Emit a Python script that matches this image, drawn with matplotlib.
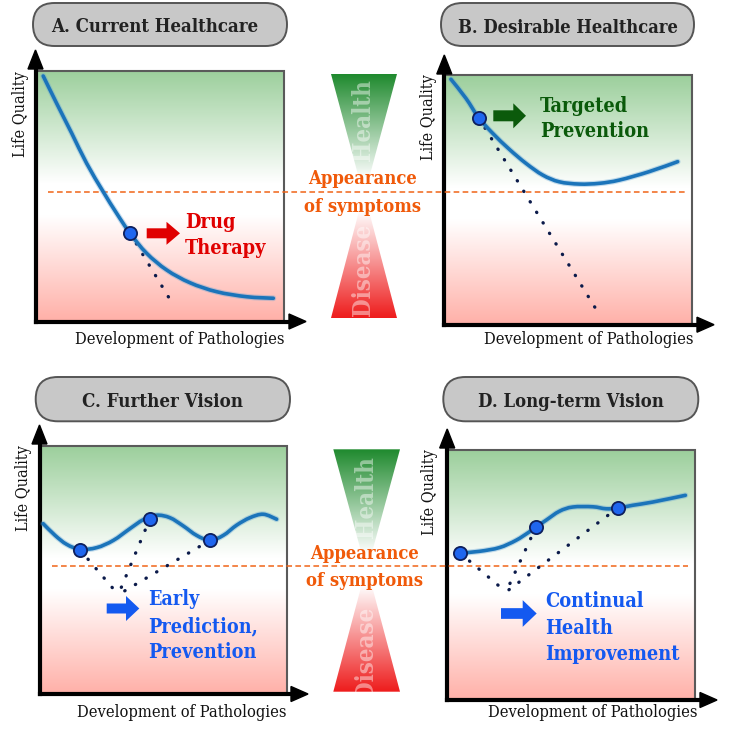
import numpy as np
import matplotlib
matplotlib.use("Agg")
import matplotlib.pyplot as plt
from matplotlib.patches import FancyBboxPatch, Polygon, FancyArrow, PathPatch
from matplotlib.path import Path
from matplotlib.colors import to_rgb

# ---------------- data (panel units: Development 0-10, Life Quality 0-10) ----------------
a_x = [0.25, 0.79, 1.40, 2.00, 2.67, 3.21, 3.75, 4.42, 5.23, 6.17, 7.25, 8.46, 9.53]
a_y = [9.80, 8.71, 7.51, 6.31, 5.17, 4.31, 3.51, 2.71, 2.04, 1.53, 1.17, 0.97, 0.91]
a_pts_x = [3.75]
a_pts_y = [3.51]
a_proj_x = [5.43]
a_proj_y = [0.75]

b_x = [0.24, 0.85, 1.36, 1.93, 2.60, 3.28, 3.96, 4.63, 5.44, 6.25, 7.06, 8.27, 9.42]
b_y = [9.83, 9.06, 8.29, 7.66, 7.02, 6.45, 5.98, 5.71, 5.62, 5.65, 5.78, 6.12, 6.52]
b_pts_x = [1.36]
b_pts_y = [8.29]
b_proj_x = [6.18]
b_proj_y = [0.49]

c_x = [0.13, 0.61, 1.08, 1.62, 2.30, 2.97, 3.64, 4.18, 4.72, 5.26, 5.80, 6.34, 6.88,
       7.42, 7.96, 8.50, 9.04, 9.58]
c_y = [6.88, 6.41, 6.05, 5.85, 5.92, 6.21, 6.68, 7.04, 7.22, 7.12, 6.79, 6.41, 6.21,
       6.41, 6.82, 7.12, 7.26, 7.06]
c_pts_x = [1.62, 4.45, 6.88]
c_pts_y = [5.83, 7.08, 6.21]
c_proj_x = [3.17, 3.17, 3.17]
c_proj_y = [4.03, 4.03, 4.03]

d_x = [0.49, 1.27, 2.08, 2.75, 3.29, 3.56, 3.97, 4.51, 5.05, 5.86, 6.40, 6.87, 7.48, 8.29, 9.61]
d_y = [5.86, 5.93, 6.08, 6.37, 6.71, 6.90, 7.18, 7.54, 7.71, 7.72, 7.64, 7.67, 7.78, 7.91, 8.18]
d_pts_x = [0.49, 3.56, 6.87]
d_pts_y = [5.86, 6.90, 7.67]
d_proj_x = [2.35, 2.35, 2.35]
d_proj_y = [4.30, 4.30, 4.30]

titles = ["A. Current Healthcare", "B. Desirable Healthcare", "C. Further Vision", "D. Long-term Vision"]
x_label = "Development of Pathologies"
y_label = "Life Quality"
notes = [["Drug", "Therapy"], ["Targeted", "Prevention"],
         ["Early", "Prediction,", "Prevention"], ["Continual", "Health", "Improvement"]]
symptom_text = ["Appearance", "of symptoms"]

# ---------------- layout (pixels) ----------------
W, H = 732, 743
fig = plt.figure(figsize=(W / 100, H / 100), dpi=100)
ov = fig.add_axes([0, 0, 1, 1])
ov.set_xlim(0, W)
ov.set_ylim(H, 0)
ov.axis("off")
renderer = fig.canvas.get_renderer()

SERIF = ["DejaVu Serif Condensed", "DejaVu Serif"]
STRETCH = "condensed"


def fit(t, width, use_height=False):
    bb = t.get_window_extent(renderer)
    cur = bb.height if use_height else bb.width
    t.set_fontsize(t.get_fontsize() * width / cur)
    return t.get_fontsize()


panels = [
    dict(ax=(37, 71, 248, 250), xl=35.5, yb=321.5, xr=284, yt=71, ytip=50, xtip=306,
         pill=(33, 3, 254, 43), title=(155, 32.3, 208.6),
         ylab=(20.5, 114), xlab=(75, 344), note=(185, [228.3, 254], "#e00000", "Therapy", 81.7),
         arrow=(146.7, 233.3, 33.3, 10, 23, 13.5, "#e00000")),
    dict(ax=(445, 75, 247, 249), xl=444.3, yb=324.7, xr=691.7, yt=75, ytip=55, xtip=714,
         pill=(441, 3, 253, 43), title=(567.7, 33, 222),
         ylab=(428.5, 117.5), xlab=(484.3, 344), note=(540, [111.7, 136.7], "#0b5a0b", "Prevention", 110),
         arrow=(493.3, 115.8, 32.7, 11, 25, 12.7, "#0b5a0b")),
    dict(ax=(40, 446, 247, 249), xl=39.5, yb=694, xr=286.7, yt=446, ytip=425, xtip=308,
         pill=(35.7, 377, 254.3, 44.3), title=(162.5, 407, 161.7),
         ylab=(23, 488), xlab=(77.3, 717), note=(148.3, [605, 632.7, 658.3], "#1459f0", "Prevention", 108.3),
         arrow=(106.7, 608.5, 32.6, 10, 25, 13.3, "#1459f0")),
    dict(ax=(448, 450, 247, 249), xl=447.2, yb=700, xr=695.3, yt=450.3, ytip=429, xtip=717,
         pill=(443.3, 377, 255, 44.3), title=(571, 407, 186.7),
         ylab=(430, 492), xlab=(487.7, 717), note=(545, [607, 633.7, 660.3], "#1459f0", "Improvement", 134.3),
         arrow=(501, 613.5, 35.7, 10.7, 26.7, 14, "#1459f0")),
]

green_top = np.array(to_rgb("#9ccf9c"))
pink_bot = np.array(to_rgb("#ffb0a8"))
white = np.ones(3)


def box_gradient(n=256):
    t = np.linspace(0, 1, n)
    img = np.zeros((n, 1, 3))
    for i, v in enumerate(t):
        if v < 0.45:
            m = v / 0.45
            c = green_top * (1 - m) + white * m
        elif v < 0.58:
            c = white
        else:
            m = (v - 0.58) / 0.42
            c = white * (1 - m) + pink_bot * m
        img[i, 0] = c
    return img


grad = box_gradient()

for p, title, note_lines in zip(panels, titles, notes):
    ov.imshow(grad, extent=(p["xl"], p["xr"], p["yb"], p["yt"]), aspect="auto",
              interpolation="bilinear", zorder=1)
    ov.plot([p["xl"], p["xr"], p["xr"]], [p["yt"], p["yt"], p["yb"]], color="#5a5a5a",
            lw=1.5, zorder=2, solid_joinstyle="miter")
    ov.plot([p["xl"], p["xl"]], [p["yb"], p["ytip"] + 15], color="black", lw=3, zorder=3,
            solid_capstyle="projecting")
    ov.plot([p["xl"], p["xtip"] - 14], [p["yb"], p["yb"]], color="black", lw=3, zorder=3,
            solid_capstyle="projecting")
    ov.add_patch(Polygon([(p["xl"] - 7.5, p["ytip"] + 19), (p["xl"] + 7.5, p["ytip"] + 19),
                          (p["xl"], p["ytip"])], closed=True, color="black", zorder=3))
    ov.add_patch(Polygon([(p["xtip"] - 17, p["yb"] - 7.5), (p["xtip"] - 17, p["yb"] + 7.5),
                          (p["xtip"], p["yb"])], closed=True, color="black", zorder=3))
    px, py, pw, ph = p["pill"]
    ov.add_patch(FancyBboxPatch((px, py), pw, ph,
                                boxstyle="round,pad=0,rounding_size=%f" % (ph / 2),
                                facecolor="#c8c8c8", edgecolor="#555555", lw=1.4, zorder=3))
    tx, ty, tw = p["title"]
    t = ov.text(tx, ty, title, ha="center", va="baseline", fontsize=14, fontweight="bold",
                family=SERIF, fontstretch=STRETCH, color="#222222", zorder=4)
    fit(t, tw)
    yl = ov.text(p["ylab"][0], p["ylab"][1], y_label, rotation=90, ha="center", va="center",
                 fontsize=11, family=SERIF, fontstretch=STRETCH, color="#111111", zorder=4)
    fit(yl, 86, use_height=True)
    xlab = ov.text(p["xlab"][0], p["xlab"][1], x_label, ha="left", va="baseline",
                   fontsize=11, family=SERIF, fontstretch=STRETCH, color="#111111", zorder=4)
    fit(xlab, 208)
    nx, nys, ncol, nref, nw = p["note"]
    probe = ov.text(0, 0, nref, fontsize=14, fontweight="bold", family=SERIF, fontstretch=STRETCH)
    fs = fit(probe, nw)
    probe.remove()
    for line, yy in zip(note_lines, nys):
        ov.text(nx, yy, line, ha="left", va="baseline", fontsize=fs, fontweight="bold",
                family=SERIF, fontstretch=STRETCH, color=ncol, zorder=4)
    axx, ayy, alen, shaft, headw, headl, acol = p["arrow"]
    ov.add_patch(FancyArrow(axx, ayy, alen, 0, width=shaft, head_width=headw,
                            head_length=headl, length_includes_head=True,
                            color=acol, lw=0, zorder=4))

# ---------------- hourglass between panels ----------------
hourglasses = [
    dict(xl=331, xr=397, top=74, bot=318, gtip=197, rtip=192, text_x=363,
         health_y=120, disease_y=270, dash_y=191.7, dash_x=(48, 686),
         sym_x=363, sym_y=(184, 211.7)),
    dict(xl=333.3, xr=400, top=449.3, bot=691.7, gtip=572, rtip=566, text_x=366,
         health_y=497, disease_y=653, dash_y=566.3, dash_x=(51.7, 688),
         sym_x=365, sym_y=(558.6, 586.3)),
]
g_col = np.array(to_rgb("#1f8a2e"))
r_col = np.array(to_rgb("#ee1c1c"))


def tri_gradient(col, n, reverse=False):
    t = np.linspace(0, 1, n)
    m = np.clip(t / 0.85, 0, 1)
    img = col[None, :] * (1 - m[:, None]) + white[None, :] * m[:, None]
    img = img[:, None, :]
    return img[::-1] if reverse else img


for hg in hourglasses:
    cx = (hg["xl"] + hg["xr"]) / 2
    gpoly = Polygon([(hg["xl"], hg["top"]), (hg["xr"], hg["top"]), (cx, hg["gtip"])],
                    closed=True, facecolor="none", edgecolor="none", transform=ov.transData)
    ov.add_patch(gpoly)
    im = ov.imshow(tri_gradient(g_col, 200), extent=(hg["xl"], hg["xr"], hg["gtip"], hg["top"]),
                   aspect="auto", interpolation="bilinear", zorder=1)
    im.set_clip_path(gpoly)
    rpoly = Polygon([(hg["xl"], hg["bot"]), (hg["xr"], hg["bot"]), (cx, hg["rtip"])],
                    closed=True, facecolor="none", edgecolor="none", transform=ov.transData)
    ov.add_patch(rpoly)
    im2 = ov.imshow(tri_gradient(r_col, 200, reverse=True),
                    extent=(hg["xl"], hg["xr"], hg["bot"], hg["rtip"]),
                    aspect="auto", interpolation="bilinear", zorder=1)
    im2.set_clip_path(rpoly)
    th = ov.text(hg["text_x"], hg["health_y"], "Health", rotation=90, ha="center", va="center",
                 fontsize=16, fontweight="bold", family=SERIF, fontstretch=STRETCH,
                 color="white", alpha=0.45, zorder=2)
    fit(th, 82, use_height=True)
    td = ov.text(hg["text_x"], hg["disease_y"], "Disease", rotation=90, ha="center", va="center",
                 fontsize=th.get_fontsize(), fontweight="bold", family=SERIF, fontstretch=STRETCH,
                 color="white", alpha=0.45, zorder=2)
    ov.plot(hg["dash_x"], [hg["dash_y"], hg["dash_y"]], color="#f06418", lw=1.1,
            dashes=(3.7, 2.2), zorder=5)
    s1 = ov.text(hg["sym_x"], hg["sym_y"][0], symptom_text[0], ha="center", va="baseline",
                 fontsize=12, fontweight="bold", family=SERIF, fontstretch=STRETCH,
                 color="#f05a0a", zorder=6)
    sfs = fit(s1, 109)
    ov.text(hg["sym_x"], hg["sym_y"][1], symptom_text[1], ha="center", va="baseline",
            fontsize=sfs, fontweight="bold", family=SERIF, fontstretch=STRETCH,
            color="#f05a0a", zorder=6)

ov.set_xlim(0, W)
ov.set_ylim(H, 0)


# ---------------- data panels ----------------
def smooth_path(xs, ys):
    """Catmull-Rom curve through the read points, as cubic Bezier segments."""
    pts = np.column_stack([xs, ys]).astype(float)
    ext = np.vstack([pts[0], pts, pts[-1]])
    verts = [pts[0]]
    codes = [Path.MOVETO]
    for i in range(1, len(ext) - 2):
        p0, p1, p2, p3 = ext[i - 1], ext[i], ext[i + 1], ext[i + 2]
        verts += [p1 + (p2 - p0) / 6, p2 - (p3 - p1) / 6, p2]
        codes += [Path.CURVE4] * 3
    return Path(verts, codes)


series = [
    (a_x, a_y, a_pts_x, a_pts_y, a_proj_x, a_proj_y),
    (b_x, b_y, b_pts_x, b_pts_y, b_proj_x, b_proj_y),
    (c_x, c_y, c_pts_x, c_pts_y, c_proj_x, c_proj_y),
    (d_x, d_y, d_pts_x, d_pts_y, d_proj_x, d_proj_y),
]
curve_col = "#1b74ba"
for p, (cx_, cy_, px_, py_, jx, jy) in zip(panels, series):
    x0, yt, w, h = p["ax"]
    ax = fig.add_axes([x0 / W, 1 - (yt + h) / H, w / W, h / H])
    ax.set_xlim(0, 10)
    ax.set_ylim(0, 10)
    ax.axis("off")
    ax.patch.set_alpha(0)
    for sx, sy, ex, ey in zip(px_, py_, jx, jy):
        ax.plot([sx, ex], [sy, ey], color="#0b1a4a", lw=2.4, linestyle=(0, (0.1, 3.6)),
                dash_capstyle="round", zorder=2, clip_on=False)
    path = smooth_path(cx_, cy_)
    ax.add_patch(PathPatch(path, fill=False, edgecolor="#5b9fd4", lw=4.2, alpha=0.35,
                           capstyle="round", joinstyle="round", zorder=3, clip_on=False))
    ax.add_patch(PathPatch(path, fill=False, edgecolor=curve_col, lw=2.6,
                           capstyle="round", joinstyle="round", zorder=4, clip_on=False))
    ax.plot(px_, py_, "o", ms=9.5, mfc="#1f66ee", mec="#0e1f5c", mew=1.3, zorder=5,
            clip_on=False)

fig.savefig("out.png", dpi=100)
